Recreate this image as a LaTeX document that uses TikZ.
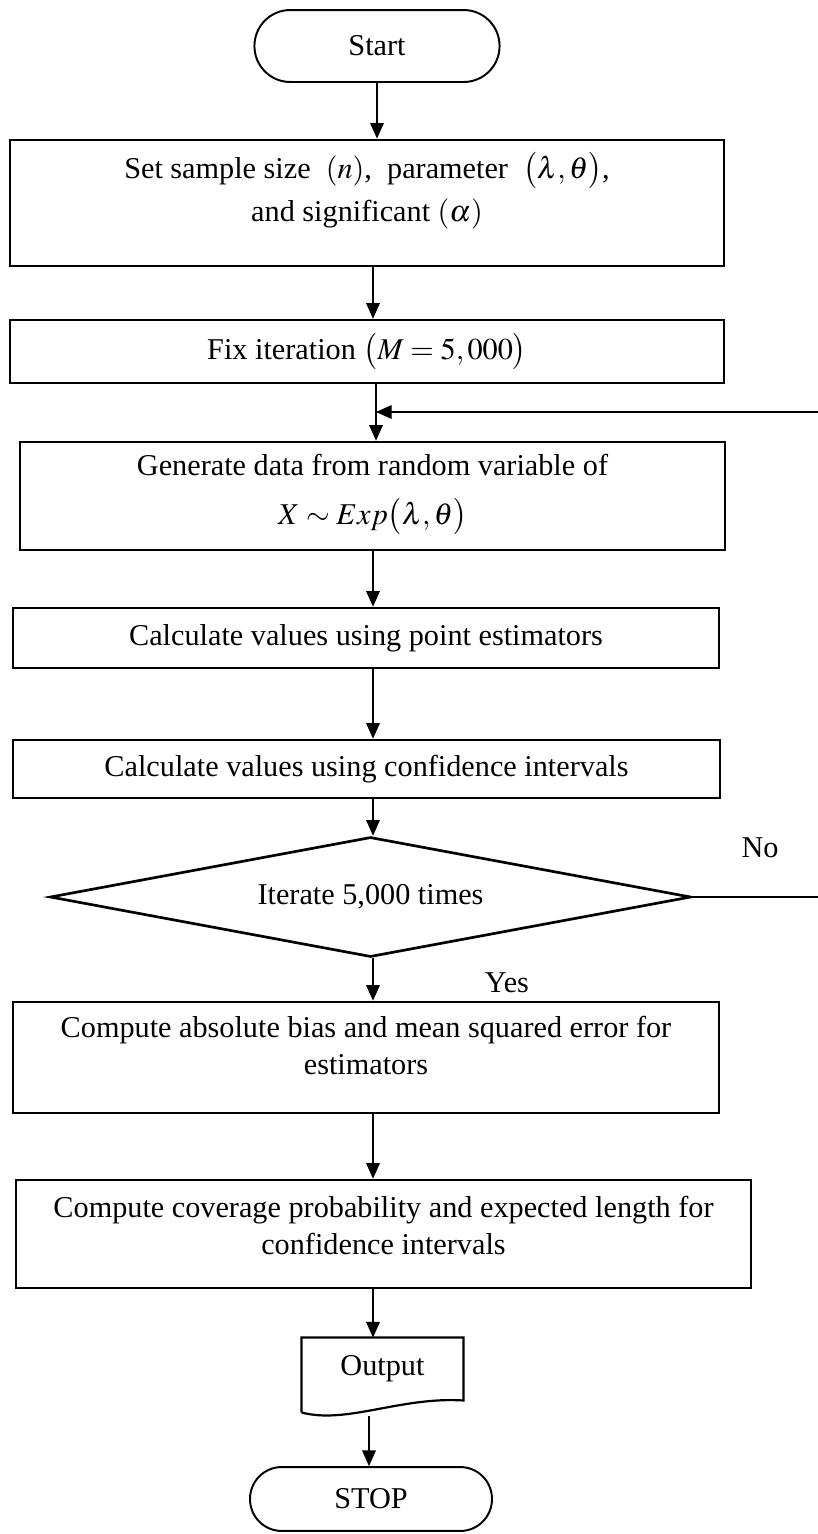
\documentclass[tikz,border=0pt]{standalone}
\usepackage{mathptmx}
\usepackage{fontspec}
\setmainfont{Liberation Serif}
\usetikzlibrary{
    arrows.meta,
    shapes.geometric,
    calc
}
\tikzset{
    % Lines
    frame line/.style={line width=1.1pt},
    connector line/.style={line width=0.45pt},
    %
    % Arrows
    arrow tip/.tip={Triangle[length=6.4pt,width=5.6pt]},
    arr/.style={connector line,->,>={arrow tip}},
    rarr/.style={connector line,<-,>={arrow tip}},
    %
    % Flowchart shapes
    terminal/.style={draw,line width=0.8pt,rounded corners=#1,inner sep=0pt},
    terminal/.default=14pt,
    process/.style={draw,frame line,inner sep=0pt,minimum width=290pt},
    decision/.style={draw,frame line,diamond,aspect=5.3,inner sep=0pt},
    document/.style={inner sep=0pt,minimum width=66pt,minimum height=25.4pt}
}
\tikzstyle{every node}=[font=\fontsize{12.4}{15}\selectfont]

\begin{document}
\begin{tikzpicture}[x=0.41pt,y=-0.41pt]
    \useasboundingbox (0,0) rectangle (818,1534);
    \coordinate (axis) at (373,0);
    \coordinate (join) at (376,412);
    \coordinate (loop corner) at (830,897);
    \coordinate (wave) at (369,1416);

    \node[terminal=14.7pt,minimum width=100.5pt,minimum height=29.5pt] (start) at (377,46) {Start};
    \node[process,minimum width=292.7pt,minimum height=51.7pt] (setup) at (367,203)
        {\begin{tabular}{c}Set sample size~ $(n)$,~ parameter~ $\bigl(\lambda,\theta\bigr)$,\\[3pt] and significant $(\alpha)$\\[8.5pt]\end{tabular}};
    \node[process,minimum width=292.7pt,minimum height=25.8pt] (fix) at (367,351.5)
        {Fix iteration $\bigl(M=5,000\bigr)$};
    \node[process,minimum width=289pt,minimum height=44.3pt] (generate) at (372.5,496)
        {\begin{tabular}{c}Generate data from random variable of\\[5pt] $X\sim Exp\bigl(\lambda,\theta\bigr)$\\[3pt]\end{tabular}};
    \node[process,minimum width=289.5pt,minimum height=24.6pt] (point est) at (366,638)
        {Calculate values using point estimators};
    \node[process,minimum width=289.8pt,minimum height=23.8pt] (conf int) at (366.5,769)
        {Calculate values using confidence intervals};
    \node[decision,minimum width=262.8pt,minimum height=49.2pt] (iterate) at (370.5,897)
        {Iterate 5,000 times};
    \node[process,minimum width=289.5pt,minimum height=45.5pt] (bias mse) at (366,1057.5)
        {\begin{tabular}{c}Compute absolute bias and mean squared error for\\ estimators\\[7.4pt]\end{tabular}};
    \node[process,minimum width=301.4pt,minimum height=44.3pt] (coverage) at (383.5,1234)
        {\begin{tabular}{c}Compute coverage probability and expected length for\\ confidence intervals\\[4.5pt]\end{tabular}};
    \node[document] (output) at (382.5,1369) {Output};
    \draw[line width=0.9pt] ($(output.south west)+(0,12)$) -- (output.north west) -- (output.north east)
        -- (output.south east) .. controls +(-63,-4) and +(45,12) .. ($(output.south west)+(0,12)$);
    \node[terminal=13pt,minimum width=99.2pt,minimum height=26.2pt] (stop) at (371,1499) {STOP};

    \node (no label) at (760,848) {No};
    \node (yes label) at (507,983) {Yes};

    \draw[arr] (start.south) -- (setup.north -| start.south);
    \draw[arr] (setup.south -| axis) -- (fix.north -| axis);
    \draw[arr] (fix.south -| join) -- (generate.north -| join);
    \draw[arr] (generate.south -| axis) -- (point est.north -| axis);
    \draw[arr] (point est.south -| axis) -- (conf int.north -| axis);
    \draw[arr] (conf int.south -| axis) -- (iterate.north -| axis);
    \draw[arr] (iterate.south -| axis) -- (bias mse.north -| axis);
    \draw[arr] (bias mse.south -| axis) -- (coverage.north -| axis);
    \draw[arr] (coverage.south -| axis) -- (output.north -| axis);
    \draw[arr] (wave) -- (wave |- stop.north);
    \draw[arr] (iterate.east) -- (loop corner) |- (join);
\end{tikzpicture}
\end{document}
